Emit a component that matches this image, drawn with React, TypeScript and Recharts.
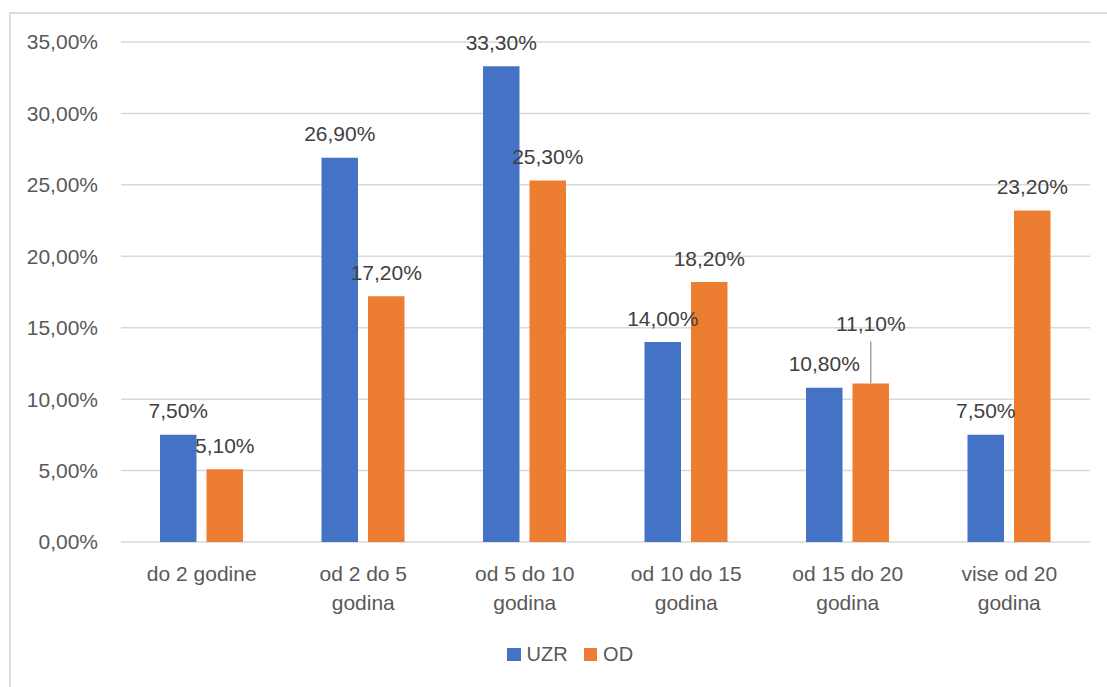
import React from "react";
import { BarChart, Bar, XAxis, YAxis, CartesianGrid, Legend } from "recharts";

const categories = [
  "do 2 godine",
  "od 2 do 5 godina",
  "od 5 do 10 godina",
  "od 10 do 15 godina",
  "od 15 do 20 godina",
  "vise od 20 godina",
];
const uzrValues = [7.5, 26.9, 33.3, 14.0, 10.8, 7.5];
const odValues = [5.1, 17.2, 25.3, 18.2, 11.1, 23.2];
const yTicks = [0, 5, 10, 15, 20, 25, 30, 35];
const seriesNames = ["UZR", "OD"];
const seriesColors = ["#4472C4", "#ED7D31"];

const data = categories.map((c, i) => ({ category: c, UZR: uzrValues[i], OD: odValues[i] }));

const FONT = "'Liberation Sans', Arial, sans-serif";
const fmt = (v: number) => v.toFixed(2).replace(".", ",") + "%";

// Category whose OD label Excel lifted and joined with a leader line
const leaderCategory = "od 15 do 20 godina";

// greedy word wrap by character count
const wrap = (s: string, maxChars: number) => {
  const lines: string[] = [];
  let cur = "";
  s.split(" ").forEach((w) => {
    const next = cur ? cur + " " + w : w;
    if (next.length > maxChars && cur) {
      lines.push(cur);
      cur = w;
    } else cur = next;
  });
  if (cur) lines.push(cur);
  return lines;
};

const makeLabel = (series: string) => (props: any) => {
  const { x, y, width, value, index } = props;
  const cx = Number(x) + Number(width) / 2;
  const top = Number(y);
  const lifted = series === "OD" && categories[index] === leaderCategory;
  const lift = lifted ? 36 : 0;
  return (
    <g>
      {lifted && <line x1={cx} x2={cx} y1={top - 42} y2={top} stroke="#a6a6a6" strokeWidth={1.5} />}
      <text
        x={cx}
        y={top - 16.5 - lift}
        textAnchor="middle"
        fill="#404040"
        fontSize={21}
        fontFamily={FONT}
      >
        {fmt(Number(value))}
      </text>
    </g>
  );
};

const CategoryTick = (props: any) => {
  const { x, y, payload } = props;
  const lines = wrap(String(payload.value), 13);
  return (
    <text x={x} y={y + 39} textAnchor="middle" fill="#595959" fontSize={21} fontFamily={FONT}>
      {lines.map((l, i) => (
        <tspan key={i} x={x} dy={i === 0 ? 0 : 29}>
          {l}
        </tspan>
      ))}
    </text>
  );
};

const LegendContent = () => (
  <div style={{ display: "flex", alignItems: "center", fontFamily: FONT, fontSize: 20, color: "#595959" }}>
    {seriesNames.map((n, i) => (
      <div key={n} style={{ display: "flex", alignItems: "center", marginRight: 16 }}>
        <span style={{ width: 13.5, height: 13.5, background: seriesColors[i], display: "inline-block", marginRight: 6 }} />
        <span>{n}</span>
      </div>
    ))}
  </div>
);

export default function App() {
  return (
    <div style={{ position: "absolute", left: 0, top: 0, width: 1107, height: 687, overflow: "hidden", background: "#fff" }}>
      <div
        style={{
          position: "absolute",
          left: 9,
          top: 12,
          width: 1200,
          height: 1000,
          border: "2px solid #dcdcdc",
          boxSizing: "border-box",
        }}
      />
      <div style={{ position: "absolute", left: 0, top: 0 }}>
        <BarChart
          width={1107}
          height={687}
          data={data}
          margin={{ top: 42, right: 17, left: 0, bottom: 65 }}
          barSize={36.5}
          barGap={10}
        >
          <CartesianGrid vertical={false} stroke="#d9d9d9" strokeWidth={1.5} />
          <XAxis
            dataKey="category"
            axisLine={false}
            tickLine={false}
            tickSize={0}
            tickMargin={0}
            height={80}
            interval={0}
            tick={<CategoryTick />}
          />
          <YAxis
            width={121}
            domain={[0, 35]}
            ticks={yTicks}
            axisLine={false}
            tickLine={false}
            tickSize={0}
            tickMargin={23}
            tickFormatter={fmt}
            tick={{ fill: "#595959", fontSize: 21, fontFamily: FONT }}
          />
          <Legend
            verticalAlign="middle"
            align="center"
            layout="horizontal"
            content={<LegendContent />}
            wrapperStyle={{ top: 643, left: 507, width: 200 }}
          />
          <Bar dataKey="UZR" name="UZR" fill={seriesColors[0]} isAnimationActive={false} label={makeLabel("UZR")} />
          <Bar dataKey="OD" name="OD" fill={seriesColors[1]} isAnimationActive={false} label={makeLabel("OD")} />
        </BarChart>
      </div>
    </div>
  );
}
